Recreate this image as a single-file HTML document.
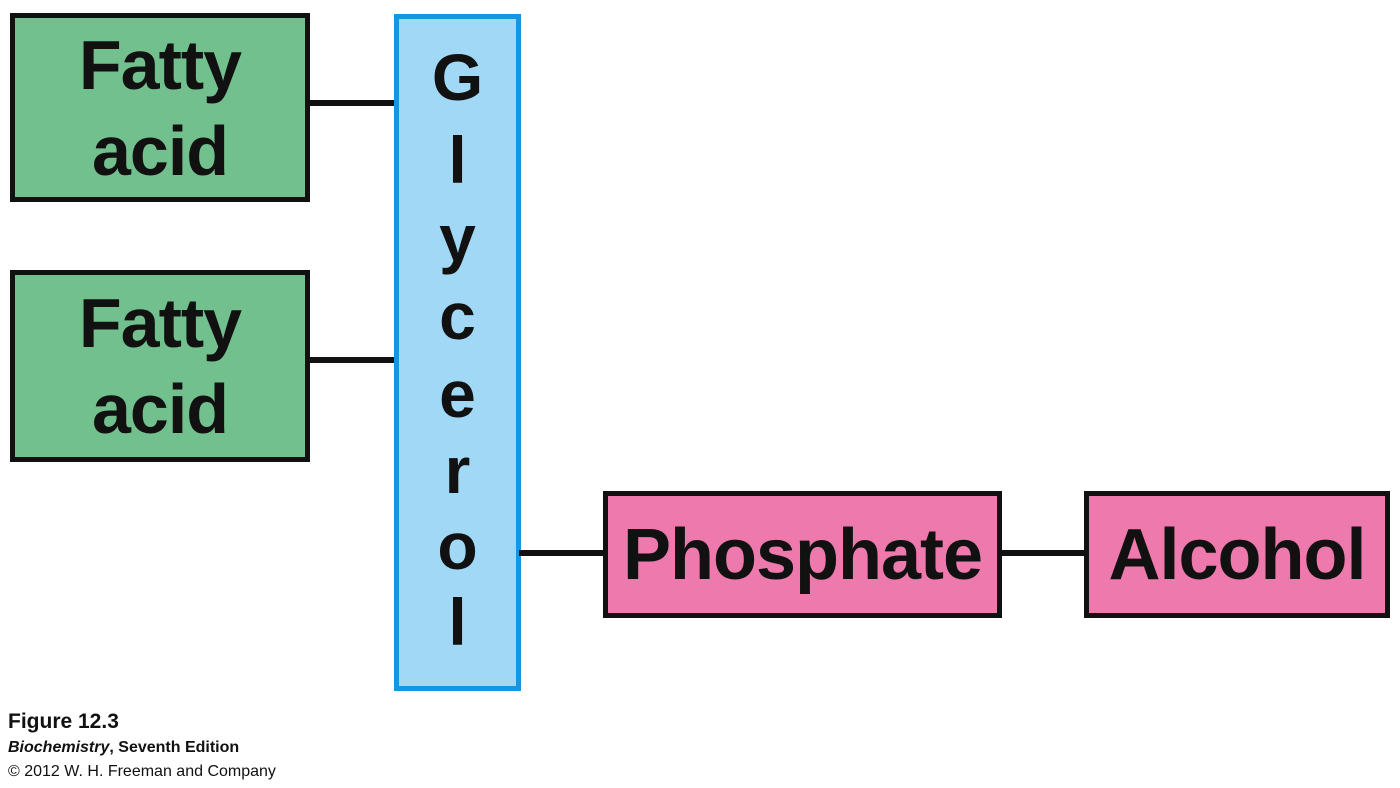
<!DOCTYPE html>
<html><head><meta charset="utf-8"><style>
body{margin:0;width:1400px;height:788px;background:#fff;position:relative;overflow:hidden;font-family:"Liberation Sans",sans-serif}
.b{position:absolute;box-sizing:border-box;border:5px solid #111;display:flex;align-items:center;justify-content:center;text-align:center;font-weight:bold;color:#111}
.g{background:#72c08e;font-size:70px;line-height:86px;letter-spacing:-1px}
.p{background:#ee79ac;font-size:72px;letter-spacing:-1px}
.l{position:absolute;background:#111;height:6px}
.gl{position:absolute;left:394px;top:14px;width:127px;height:677px;box-sizing:border-box;border:5px solid #1496e0;background:#a0d8f5}
.gl span{position:absolute;left:0;width:117px;text-align:center;font-weight:bold;font-size:66px;color:#111;line-height:66px}
.c{position:absolute;left:8px;color:#111;white-space:nowrap}
</style></head><body>
<div class="b g" style="left:10px;top:13px;width:300px;height:189px">Fatty<br>acid</div>
<div class="b g" style="left:10px;top:270px;width:300px;height:192px">Fatty<br>acid</div>
<div class="l" style="left:308px;top:100px;width:88px"></div>
<div class="l" style="left:308px;top:357px;width:88px"></div>
<div class="gl">
<span style="top:25px">G</span>
<span style="top:108px">l</span>
<span style="top:186px">y</span>
<span style="top:264px">c</span>
<span style="top:342px">e</span>
<span style="top:418px">r</span>
<span style="top:494px">o</span>
<span style="top:570px">l</span>
</div>
<div class="l" style="left:519px;top:550px;width:86px"></div>
<div class="b p" style="left:603px;top:491px;width:399px;height:127px">Phosphate</div>
<div class="l" style="left:1000px;top:550px;width:86px"></div>
<div class="b p" style="left:1084px;top:491px;width:306px;height:127px">Alcohol</div>
<div class="c" style="top:710px;font-size:21px;font-weight:bold">Figure 12.3</div>
<div class="c" style="top:739px;font-size:16px;font-weight:bold"><i>Biochemistry</i>, Seventh Edition</div>
<div class="c" style="top:763px;font-size:16px">© 2012 W. H. Freeman and Company</div>
</body></html>
